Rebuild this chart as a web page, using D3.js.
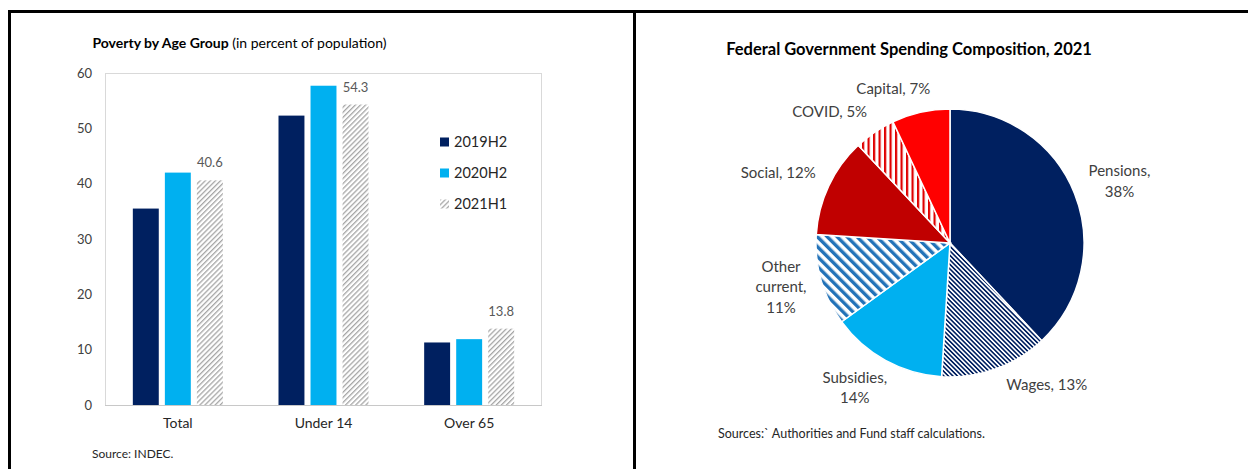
<!DOCTYPE html>
<html>
<head>
<meta charset="utf-8">
<script src="https://cdn.jsdelivr.net/npm/d3@7"></script>
<style>
  body { margin: 0; background: #fff; }
  svg { display: block; }
  text { font-family: Lato, "Open Sans", sans-serif; }
</style>
</head>
<body>
<svg id="chart" width="1248" height="469"></svg>
<script>
// ---- Poverty by age group (percent of population) ----
const ageGroups = ["Total", "Under 14", "Over 65"];
const periods = ["2019H2", "2020H2", "2021H1"];
const poverty2019H2 = [35.5, 52.3, 11.3];
const poverty2020H2 = [42.0, 57.7, 11.9];
const poverty2021H1 = [40.6, 54.3, 13.8];
const yTicks = [0, 10, 20, 30, 40, 50, 60];

// ---- Federal government spending composition, 2021 (percent) ----
const spendingItems = ["Pensions", "Wages", "Subsidies", "Other current", "Social", "COVID", "Capital"];
const spendingShares = [38, 13, 14, 11, 12, 5, 7];
const spendingLabels = [["Pensions,", "38%"], ["Wages, 13%"], ["Subsidies,", "14%"],
                        ["Other", "current,", "11%"], ["Social, 12%"], ["COVID, 5%"], ["Capital, 7%"]];

const svg = d3.select("#chart");
const defs = svg.append("defs");

// hatch patterns
function stripes(id, size, angle, color, width, bg) {
  const p = defs.append("pattern").attr("id", id).attr("patternUnits", "userSpaceOnUse")
    .attr("width", size).attr("height", size).attr("patternTransform", `rotate(${angle})`);
  p.append("rect").attr("width", size).attr("height", size).attr("fill", bg);
  p.append("rect").attr("x", 0).attr("y", 0).attr("width", width).attr("height", size).attr("fill", color);
}
stripes("hatchGray", 3.6, 45, "#a6a6a6", 1.3, "#fff");
stripes("hatchNavy", 3.2, -45, "#002060", 1.6, "#fff");
stripes("hatchBlue", 7, -45, "#2272b8", 3.4, "#fff");
stripes("hatchRed", 5.5, 0, "#e00000", 2.2, "#fff");

// panel frame
const frame = svg.append("g").attr("stroke", "#000").attr("stroke-width", 3);
frame.append("line").attr("x1", 8).attr("x2", 1248).attr("y1", 11.5).attr("y2", 11.5);
frame.append("line").attr("x1", 9.5).attr("x2", 9.5).attr("y1", 10).attr("y2", 469);
frame.append("line").attr("x1", 634.5).attr("x2", 634.5).attr("y1", 10).attr("y2", 469);

// ================= Bar chart =================
const plot = { left: 105, right: 542, top: 73, bottom: 405 };
const y = d3.scaleLinear().domain([0, 60]).range([plot.bottom, plot.top]);
const x0 = d3.scaleBand().domain(ageGroups).range([plot.left, plot.right]).padding(0);
const x1 = d3.scaleBand().domain(periods)
  .range([x0.bandwidth() / 2 - 45, x0.bandwidth() / 2 + 45]).paddingInner(0.19);
const seriesValues = { "2019H2": poverty2019H2, "2020H2": poverty2020H2, "2021H1": poverty2021H1 };
const seriesFill = { "2019H2": "#002060", "2020H2": "#00b0f0", "2021H1": "url(#hatchGray)" };

const bar = svg.append("g");
bar.append("text").attr("x", 239.5).attr("y", 48).attr("text-anchor", "middle")
  .attr("font-size", 14).attr("fill", "#000")
  .call(t => {
    t.append("tspan").attr("font-weight", "bold").text("Poverty by Age Group");
    t.append("tspan").text(" (in percent of population)");
  });

bar.append("rect").attr("x", plot.left + 0.5).attr("y", plot.top + 0.5)
  .attr("width", plot.right - plot.left - 1).attr("height", plot.bottom - plot.top)
  .attr("fill", "none").attr("stroke", "#d9d9d9");
bar.append("line").attr("x1", plot.left).attr("x2", plot.right)
  .attr("y1", plot.bottom + 0.5).attr("y2", plot.bottom + 0.5).attr("stroke", "#c8c8c8");

const yAxis = bar.append("g").attr("transform", `translate(${plot.left},0)`)
  .call(d3.axisLeft(y).tickValues(yTicks).tickSize(0).tickPadding(13));
yAxis.select(".domain").remove();
yAxis.selectAll("text").attr("font-size", 13).attr("fill", "#404040").attr("font-family", "Lato, sans-serif");

const xAxis = bar.append("g").attr("transform", `translate(0,${plot.bottom})`)
  .call(d3.axisBottom(x0).tickSize(0).tickPadding(13));
xAxis.select(".domain").remove();
xAxis.selectAll("text").attr("font-size", 14).attr("fill", "#262626").attr("font-family", "Lato, sans-serif");

const groups = bar.selectAll("g.grp").data(ageGroups).join("g").attr("class", "grp")
  .attr("transform", d => `translate(${x0(d)},0)`);
groups.selectAll("rect").data((d, i) => periods.map(p => ({ p, v: seriesValues[p][i] })))
  .join("rect")
  .attr("x", d => x1(d.p)).attr("width", x1.bandwidth())
  .attr("y", d => y(d.v)).attr("height", d => y(0) - y(d.v))
  .attr("fill", d => seriesFill[d.p]);
groups.selectAll("text.val").data((d, i) => [{ p: "2021H1", v: poverty2021H1[i] }])
  .join("text").attr("class", "val")
  .attr("x", d => x1(d.p) + x1.bandwidth() / 2).attr("y", d => y(d.v) - 13)
  .attr("text-anchor", "middle").attr("font-size", 13).attr("fill", "#595959")
  .text(d => d.v.toFixed(1));

const legend = bar.append("g").attr("transform", "translate(440,142)");
periods.forEach((p, i) => {
  const g = legend.append("g").attr("transform", `translate(0,${i * 31})`);
  g.append("rect").attr("x", 0).attr("y", -4.5).attr("width", 9).attr("height", 9).attr("fill", seriesFill[p]);
  g.append("text").attr("x", 14).attr("y", 5).attr("font-size", 14.5).attr("fill", "#262626").text(p);
});

bar.append("text").attr("x", 92).attr("y", 458).attr("font-size", 12).attr("fill", "#262626")
  .text("Source: INDEC.");

// ================= Pie chart =================
const pieCenter = [950, 243];
const R = 134;
const pieFills = ["#002060", "url(#hatchNavy)", "#00b0f0", "url(#hatchBlue)", "#c00000", "url(#hatchRed)", "#ff0000"];
const pie = d3.pie().sort(null).value(d => d)(spendingShares);
const arc = d3.arc().innerRadius(0).outerRadius(R);
const labelArc = d3.arc().innerRadius(150).outerRadius(150);
// per-label offsets from the label ring
const labelNudge = [[30, -7], [46, 0], [-23, 13], [-25, 2], [-36, -7], [-36, -7], [-24, -8]];

const pg = svg.append("g");
pg.append("text").attr("x", 909).attr("y", 55).attr("text-anchor", "middle")
  .attr("font-size", 16.5).attr("font-weight", "bold").attr("fill", "#000")
  .text("Federal Government Spending Composition, 2021");

const slices = pg.append("g").attr("transform", `translate(${pieCenter})`);
slices.selectAll("path").data(pie).join("path")
  .attr("d", arc).attr("fill", (d, i) => pieFills[i])
  .attr("stroke", "#fff").attr("stroke-width", 1.5);

const lh = 20.5;
slices.selectAll("text").data(pie).join("text")
  .attr("transform", (d, i) => {
    const c = labelArc.centroid(d);
    return `translate(${c[0] + labelNudge[i][0]},${c[1] + labelNudge[i][1]})`;
  })
  .attr("text-anchor", "middle").attr("font-size", 15).attr("fill", "#404040")
  .each(function (d, i) {
    const lines = spendingLabels[i];
    const t = d3.select(this);
    lines.forEach((ln, k) => {
      t.append("tspan").attr("x", 0)
        .attr("y", (k - (lines.length - 1) / 2) * lh + 5.5)
        .text(ln);
    });
  });

pg.append("text").attr("x", 718).attr("y", 438).attr("font-size", 12.5).attr("fill", "#262626")
  .text("Sources:` Authorities and Fund staff calculations.");
</script>
</body>
</html>
